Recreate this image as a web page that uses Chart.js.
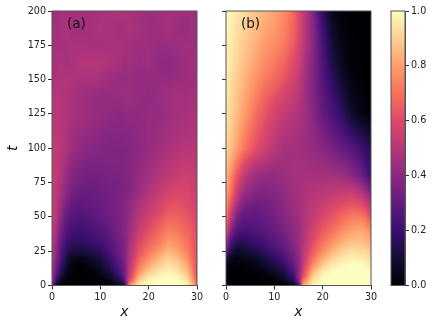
<!DOCTYPE html>
<html>
<head>
<meta charset="utf-8">
<title>Heatmaps (a) and (b)</title>
<script src="https://cdn.jsdelivr.net/npm/chart.js@4/dist/chart.umd.min.js"></script>
<style>
  html, body { margin: 0; background: #fff; }
  #wrap { position: relative; width: 436px; height: 327px; overflow: hidden; }
  canvas { position: absolute; left: 0; top: 0; }
</style>
</head>
<body>
<div id="wrap">
  <canvas id="panelA" width="436" height="327"></canvas>
  <canvas id="panelB" width="436" height="327"></canvas>
  <canvas id="colorbar" width="436" height="327"></canvas>
</div>
<script>
// ── Data ──────────────────────────────────────────────────────────────────────
const xNodes = [0, 1, 2, 3, 4, 6, 8, 10, 12, 14, 15, 16, 18, 20, 22, 24, 26, 28, 29, 30];
const tNodes = [0, 3, 6, 10, 15, 20, 25, 30, 40, 50, 60, 70, 80, 100, 125, 137, 150, 162, 175, 187, 200];
const xTicks = [0, 10, 20, 30];
const tTicks = [0, 25, 50, 75, 100, 125, 150, 175, 200];
const barTicks = [0, 0.2, 0.4, 0.6, 0.8, 1];

// one row per entry of tNodes, one value per entry of xNodes
const valuesA = [
  [.30,.05,0,0,0,0,0,0,.01,.05,.12,.78,.97,1,1,1,1,.97,.87,.70],
  [.40,.15,.04,.01,0,0,0,0,.03,.12,.25,.62,.92,.99,1,1,1,.95,.82,.65],
  [.45,.22,.08,.02,0,0,0,.02,.07,.18,.30,.56,.85,.95,.99,1,.99,.91,.78,.62],
  [.47,.28,.14,.05,.01,0,.01,.05,.11,.24,.33,.52,.78,.89,.95,.97,.95,.86,.74,.62],
  [.48,.32,.18,.09,.03,.01,.04,.08,.16,.28,.35,.50,.71,.82,.89,.94,.91,.81,.71,.62],
  [.50,.36,.22,.13,.05,.04,.08,.12,.20,.30,.36,.48,.66,.76,.84,.90,.86,.77,.69,.62],
  [.50,.38,.25,.17,.12,.12,.14,.17,.24,.32,.37,.47,.62,.71,.78,.85,.81,.74,.67,.61],
  [.52,.40,.28,.20,.16,.16,.18,.21,.26,.33,.37,.46,.59,.67,.73,.80,.77,.71,.66,.61],
  [.54,.44,.33,.26,.22,.21,.23,.26,.30,.35,.38,.44,.54,.61,.67,.73,.71,.67,.64,.60],
  [.55,.48,.38,.31,.27,.25,.27,.30,.33,.36,.39,.42,.50,.56,.61,.66,.66,.63,.61,.58],
  [.56,.50,.42,.36,.31,.29,.30,.32,.34,.36,.38,.41,.47,.52,.56,.61,.62,.60,.58,.56],
  [.56,.51,.45,.40,.35,.32,.32,.33,.34,.35,.36,.38,.43,.48,.52,.56,.58,.58,.56,.55],
  [.55,.52,.48,.43,.38,.35,.34,.35,.36,.36,.37,.38,.42,.45,.49,.52,.54,.55,.54,.53],
  [.54,.52,.50,.47,.44,.41,.39,.38,.37,.37,.37,.38,.40,.42,.44,.47,.49,.50,.50,.50],
  [.50,.50,.50,.49,.47,.45,.44,.42,.41,.40,.40,.41,.41,.42,.42,.44,.45,.46,.47,.47],
  [.49,.50,.49,.48,.47,.44,.43,.42,.42,.43,.44,.44,.42,.41,.43,.45,.46,.45,.46,.47],
  [.47,.48,.48,.49,.48,.47,.47,.46,.44,.43,.43,.43,.42,.42,.42,.42,.43,.44,.44,.45],
  [.45,.47,.48,.46,.47,.49,.50,.50,.48,.46,.44,.45,.43,.44,.41,.40,.42,.44,.45,.46],
  [.45,.46,.46,.46,.47,.47,.46,.46,.47,.47,.46,.45,.44,.44,.43,.43,.44,.45,.44,.43],
  [.46,.45,.47,.48,.45,.44,.46,.48,.47,.45,.46,.47,.46,.43,.44,.46,.43,.42,.45,.44],
  [.44,.44,.45,.45,.45,.46,.45,.46,.47,.48,.47,.46,.45,.44,.44,.45,.45,.44,.44,.43],
];

const valuesB = [
  [0,0,0,0,0,0,0,0,.01,.03,.2,.85,.97,1,1,1,1,1,1,1],
  [0,0,0,0,0,0,0,.01,.04,.14,.35,.72,.95,1,1,1,1,1,1,1],
  [0,0,0,0,0,0,.01,.03,.08,.20,.38,.63,.91,.99,1,1,1,1,1,1],
  [.02,0,0,0,0,.01,.03,.07,.13,.26,.38,.58,.85,.96,1,1,1,1,1,1],
  [.03,.01,.01,.01,.02,.03,.07,.12,.19,.30,.39,.54,.76,.89,.96,.99,1,1,.98,.97],
  [.15,.05,.03,.03,.05,.07,.12,.17,.24,.33,.40,.51,.70,.82,.90,.95,.97,.96,.95,.93],
  [.30,.15,.08,.08,.10,.13,.17,.22,.28,.36,.41,.50,.65,.76,.84,.90,.93,.92,.91,.88],
  [.42,.22,.15,.14,.15,.18,.21,.26,.31,.38,.42,.49,.62,.71,.79,.85,.88,.88,.87,.83],
  [.62,.38,.27,.24,.23,.25,.28,.31,.35,.40,.43,.48,.57,.64,.70,.76,.80,.82,.80,.75],
  [.72,.52,.38,.31,.29,.29,.31,.34,.38,.42,.44,.48,.53,.59,.63,.68,.72,.72,.68,.62],
  [.78,.63,.50,.41,.36,.33,.34,.36,.40,.44,.45,.47,.51,.54,.57,.60,.62,.60,.55,.48],
  [.82,.72,.60,.50,.44,.39,.38,.39,.42,.45,.46,.47,.49,.50,.51,.52,.52,.46,.40,.33],
  [.85,.76,.66,.58,.51,.44,.42,.42,.44,.46,.46,.46,.46,.46,.46,.44,.40,.33,.27,.20],
  [.91,.87,.82,.76,.70,.62,.56,.50,.46,.45,.45,.44,.42,.39,.35,.30,.26,.21,.17,.14],
  [.95,.91,.87,.83,.79,.70,.63,.57,.53,.50,.48,.46,.39,.30,.24,.17,.08,.03,.02,.01],
  [.96,.92,.88,.85,.81,.74,.67,.62,.57,.53,.50,.46,.38,.28,.21,.13,.05,.02,.01,0],
  [.97,.93,.90,.87,.84,.78,.72,.68,.63,.57,.53,.47,.37,.26,.17,.08,.02,.01,0,0],
  [.98,.95,.92,.89,.86,.81,.76,.72,.67,.60,.56,.49,.38,.25,.13,.05,.01,0,0,0],
  [.98,.96,.93,.90,.88,.84,.79,.76,.72,.64,.59,.52,.39,.24,.10,.03,.01,0,0,0],
  [.99,.97,.94,.92,.90,.86,.82,.79,.74,.67,.61,.53,.39,.21,.07,.02,0,0,0,0],
  [.99,.98,.96,.94,.92,.88,.85,.81,.76,.68,.60,.52,.38,.16,.05,.01,0,0,0,0],
];

// ── Colormap (magma, evenly spaced stops) ─────────────────────────────────────
const MAGMA = [
  [0,0,4], [20,14,54], [59,15,112], [100,26,128], [140,41,129], [183,55,121],
  [222,73,104], [247,112,92], [254,159,109], [254,207,146], [252,253,191],
];

function magma(v) {
  const p = Math.min(Math.max(v, 0), 1) * (MAGMA.length - 1);
  const i = Math.min(Math.floor(p), MAGMA.length - 2);
  const f = p - i;
  return MAGMA[i].map((c, k) => c + (MAGMA[i + 1][k] - c) * f);
}

function findSpan(nodes, val) {
  let i = 0;
  while (i < nodes.length - 2 && val > nodes[i + 1]) i++;
  return i;
}

// ── Plugin: paints the dataset's grid as an image, like imshow ────────────────
const heatmapPlugin = {
  id: 'heatmap',
  beforeDatasetsDraw(chart) {
    const grid = chart.data.datasets[0] && chart.data.datasets[0].grid;
    if (!grid) return;
    const { ctx, chartArea: a, scales } = chart;
    const w = Math.round(a.right - a.left), h = Math.round(a.bottom - a.top);
    const off = document.createElement('canvas');
    off.width = w; off.height = h;
    const offCtx = off.getContext('2d');
    const img = offCtx.createImageData(w, h);
    for (let py = 0; py < h; py++) {
      const t = Math.min(Math.max(scales.y.getValueForPixel(a.top + py + 0.5), 0), 200);
      const j = findSpan(tNodes, t);
      const ft = (t - tNodes[j]) / (tNodes[j + 1] - tNodes[j]);
      for (let px = 0; px < w; px++) {
        const x = Math.min(Math.max(scales.x.getValueForPixel(a.left + px + 0.5), 0), 30);
        const i = findSpan(xNodes, x);
        const fx = (x - xNodes[i]) / (xNodes[i + 1] - xNodes[i]);
        const low = grid[j][i] * (1 - fx) + grid[j][i + 1] * fx;
        const high = grid[j + 1][i] * (1 - fx) + grid[j + 1][i + 1] * fx;
        const rgb = magma(low * (1 - ft) + high * ft);
        const o = (py * w + px) * 4;
        img.data[o] = rgb[0]; img.data[o + 1] = rgb[1]; img.data[o + 2] = rgb[2]; img.data[o + 3] = 255;
      }
    }
    offCtx.putImageData(img, 0, 0);
    ctx.drawImage(off, a.left, a.top, a.right - a.left, a.bottom - a.top);
  },
  afterDraw(chart) {
    // frame on all four sides, and the panel letter
    const { ctx, chartArea: a, scales } = chart;
    ctx.save();
    ctx.strokeStyle = FRAME;
    ctx.lineWidth = 1;
    ctx.strokeRect(a.left, a.top, a.right - a.left, a.bottom - a.top);
    const letter = chart.options.plugins.heatmap.letter;
    if (letter) {
      ctx.fillStyle = '#111';
      ctx.font = "13.5px 'DejaVu Sans'";
      ctx.textBaseline = 'middle';
      ctx.fillText(letter, scales.x.getPixelForValue(3.1), scales.y.getPixelForValue(190));
    }
    ctx.restore();
  },
};

// ── Shared axis settings ──────────────────────────────────────────────────────
const FRAME = '#555';
const TICK_FONT = { family: "'DejaVu Sans'", size: 9.6 };
const LABEL_FONT = { family: "'DejaVu Sans'", size: 14, style: 'italic' };
const PLOT_TOP = 11;
const PLOT_BOTTOM_GAP = 41.5;

function fixedTicks(list) {
  return axis => { axis.ticks = list.map(v => ({ value: v })); };
}

function heatmapChart(id, grid, letter, left, right, showT) {
  const points = [];
  tNodes.forEach((t, j) => xNodes.forEach((x, i) => points.push({ x, y: t, v: grid[j][i] })));
  return new Chart(document.getElementById(id), {
    type: 'scatter',
    data: { datasets: [{ data: points, grid, pointRadius: 0, pointHoverRadius: 0 }] },
    options: {
      responsive: false,
      animation: false,
      events: [],
      layout: { padding: { left: showT ? 0 : left - 40, top: PLOT_TOP, right: 436 - right, bottom: 0 } },
      plugins: { legend: { display: false }, tooltip: { enabled: false }, heatmap: { letter } },
      scales: {
        x: {
          type: 'linear', min: 0, max: 30,
          afterBuildTicks: fixedTicks(xTicks),
          afterFit: axis => { axis.height = PLOT_BOTTOM_GAP; },
          ticks: { color: '#222', font: TICK_FONT, maxRotation: 0, padding: 2 },
          grid: { drawOnChartArea: false, color: '#333', tickLength: 4 },
          border: { color: FRAME },
          title: { display: true, text: 'x', color: '#111', font: LABEL_FONT, padding: { top: 0, bottom: 6 } },
        },
        y: {
          type: 'linear', min: 0, max: 200,
          afterBuildTicks: fixedTicks(tTicks),
          afterFit: axis => { axis.width = showT ? left : 40; },
          ticks: { color: '#222', font: TICK_FONT, padding: 2, callback: v => (showT ? String(v) : '') },
          grid: { drawOnChartArea: false, color: '#333', tickLength: 4 },
          border: { color: FRAME },
          title: { display: showT, text: 't', color: '#111', font: LABEL_FONT, padding: { top: 5, bottom: 0 } },
        },
      },
    },
    plugins: [heatmapPlugin],
  });
}

// ── Panels ────────────────────────────────────────────────────────────────────
heatmapChart('panelA', valuesA, '(a)', 52, 197, true);
heatmapChart('panelB', valuesB, '(b)', 226, 371, false);

// ── Colorbar: one floating bar filled with the colormap ───────────────────────
new Chart(document.getElementById('colorbar'), {
  type: 'bar',
  data: {
    labels: [''],
    datasets: [{
      data: [[0, 1]],
      barPercentage: 1,
      categoryPercentage: 1,
      borderWidth: 0,
      backgroundColor(c) {
        const area = c.chart.chartArea;
        if (!area) return '#000';
        const g = c.chart.ctx.createLinearGradient(0, area.bottom, 0, area.top);
        MAGMA.forEach((rgb, i) => g.addColorStop(i / (MAGMA.length - 1), `rgb(${rgb.join(',')})`));
        return g;
      },
    }],
  },
  options: {
    responsive: false,
    animation: false,
    events: [],
    layout: { padding: { left: 391, top: PLOT_TOP, right: 0, bottom: PLOT_BOTTOM_GAP } },
    plugins: { legend: { display: false }, tooltip: { enabled: false }, heatmap: {} },
    scales: {
      x: { display: false },
      y: {
        position: 'right', min: 0, max: 1,
        afterBuildTicks: fixedTicks(barTicks),
        afterFit: axis => { axis.width = 31; },
        ticks: { color: '#222', font: TICK_FONT, padding: 2, callback: v => v.toFixed(1) },
        grid: { drawOnChartArea: false, color: '#333', tickLength: 4 },
        border: { color: FRAME },
      },
    },
  },
  plugins: [heatmapPlugin],
});
</script>
</body>
</html>
